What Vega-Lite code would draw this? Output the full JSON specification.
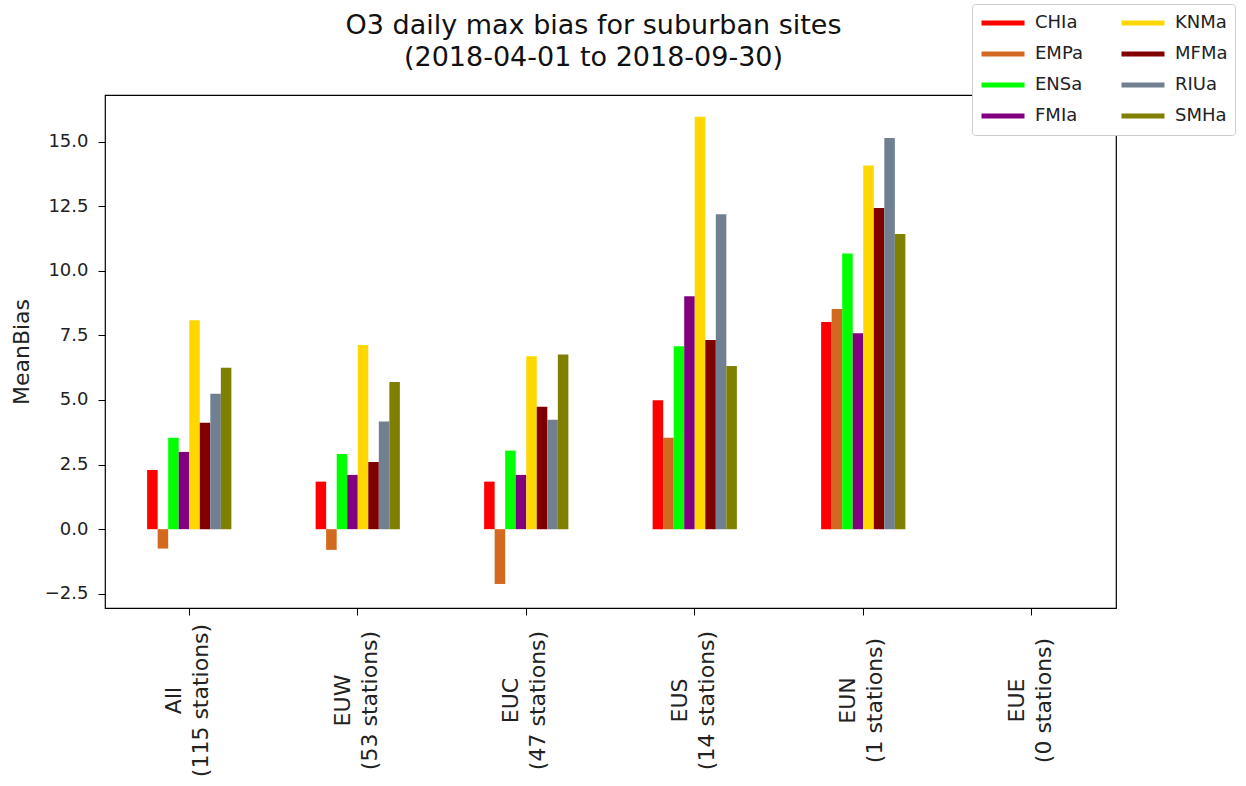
{
  "$schema": "https://vega.github.io/schema/vega-lite/v6.json",
  "width": 1011,
  "height": 513,
  "autosize": {"type": "none"},
  "padding": {"left": 105, "top": 95, "right": 130, "bottom": 178},
  "background": "white",
  "config": {
    "font": "DejaVu Sans",
    "view": {"stroke": "black", "strokeWidth": 1.2},
    "axis": {"domain": false, "grid": false, "tickColor": "black", "tickSize": 7, "labelColor": "#222", "titleColor": "#222", "labelFont": "DejaVu Sans", "titleFont": "DejaVu Sans"}
  },
  "title": {
    "text": ["O3 daily max bias for suburban sites", "(2018-04-01 to 2018-09-30)"],
    "fontSize": 27,
    "lineHeight": 32,
    "fontWeight": "normal",
    "color": "#111",
    "anchor": "middle",
    "offset": 0,
    "dy": 68,
    "dx": -17
  },
  "data": {
    "values": [
      {"region": "All\n(115 stations)", "model": "CHIa", "bias": 2.29},
      {"region": "All\n(115 stations)", "model": "EMPa", "bias": -0.75},
      {"region": "All\n(115 stations)", "model": "ENSa", "bias": 3.54},
      {"region": "All\n(115 stations)", "model": "FMIa", "bias": 2.99},
      {"region": "All\n(115 stations)", "model": "KNMa", "bias": 8.08},
      {"region": "All\n(115 stations)", "model": "MFMa", "bias": 4.12},
      {"region": "All\n(115 stations)", "model": "RIUa", "bias": 5.24},
      {"region": "All\n(115 stations)", "model": "SMHa", "bias": 6.25},
      {"region": "EUW\n(53 stations)", "model": "CHIa", "bias": 1.84},
      {"region": "EUW\n(53 stations)", "model": "EMPa", "bias": -0.8},
      {"region": "EUW\n(53 stations)", "model": "ENSa", "bias": 2.91},
      {"region": "EUW\n(53 stations)", "model": "FMIa", "bias": 2.1},
      {"region": "EUW\n(53 stations)", "model": "KNMa", "bias": 7.13},
      {"region": "EUW\n(53 stations)", "model": "MFMa", "bias": 2.6},
      {"region": "EUW\n(53 stations)", "model": "RIUa", "bias": 4.17},
      {"region": "EUW\n(53 stations)", "model": "SMHa", "bias": 5.69},
      {"region": "EUC\n(47 stations)", "model": "CHIa", "bias": 1.84},
      {"region": "EUC\n(47 stations)", "model": "EMPa", "bias": -2.12},
      {"region": "EUC\n(47 stations)", "model": "ENSa", "bias": 3.04},
      {"region": "EUC\n(47 stations)", "model": "FMIa", "bias": 2.1},
      {"region": "EUC\n(47 stations)", "model": "KNMa", "bias": 6.69},
      {"region": "EUC\n(47 stations)", "model": "MFMa", "bias": 4.74},
      {"region": "EUC\n(47 stations)", "model": "RIUa", "bias": 4.23},
      {"region": "EUC\n(47 stations)", "model": "SMHa", "bias": 6.76},
      {"region": "EUS\n(14 stations)", "model": "CHIa", "bias": 4.99},
      {"region": "EUS\n(14 stations)", "model": "EMPa", "bias": 3.54},
      {"region": "EUS\n(14 stations)", "model": "ENSa", "bias": 7.08},
      {"region": "EUS\n(14 stations)", "model": "FMIa", "bias": 9.01},
      {"region": "EUS\n(14 stations)", "model": "KNMa", "bias": 15.96},
      {"region": "EUS\n(14 stations)", "model": "MFMa", "bias": 7.32},
      {"region": "EUS\n(14 stations)", "model": "RIUa", "bias": 12.19},
      {"region": "EUS\n(14 stations)", "model": "SMHa", "bias": 6.31},
      {"region": "EUN\n(1 stations)", "model": "CHIa", "bias": 8.02},
      {"region": "EUN\n(1 stations)", "model": "EMPa", "bias": 8.52},
      {"region": "EUN\n(1 stations)", "model": "ENSa", "bias": 10.67},
      {"region": "EUN\n(1 stations)", "model": "FMIa", "bias": 7.58},
      {"region": "EUN\n(1 stations)", "model": "KNMa", "bias": 14.07},
      {"region": "EUN\n(1 stations)", "model": "MFMa", "bias": 12.43},
      {"region": "EUN\n(1 stations)", "model": "RIUa", "bias": 15.14},
      {"region": "EUN\n(1 stations)", "model": "SMHa", "bias": 11.42}
    ]
  },
  "mark": {"type": "bar"},
  "encoding": {
    "x": {
      "field": "region",
      "type": "nominal",
      "scale": {
        "domain": ["All\n(115 stations)", "EUW\n(53 stations)", "EUC\n(47 stations)", "EUS\n(14 stations)", "EUN\n(1 stations)", "EUE\n(0 stations)"],
        "paddingInner": 0.5,
        "paddingOuter": 0.25
      },
      "axis": {
        "title": null,
        "labelAngle": -90,
        "labelAlign": "center",
        "labelBaseline": "middle",
        "labelPadding": 85,
        "labelOffset": -15,
        "labelFontSize": 22,
        "labelLineHeight": 27,
        "labelOverlap": false,
        "labelBound": false,
        "labelFlush": false,
        "labelLimit": 300,
        "labelExpr": "split(datum.label, '\\n')"
      }
    },
    "xOffset": {
      "field": "model",
      "type": "nominal",
      "sort": ["CHIa", "EMPa", "ENSa", "FMIa", "KNMa", "MFMa", "RIUa", "SMHa"],
      "scale": {"paddingInner": 0, "paddingOuter": 0}
    },
    "y": {
      "field": "bias",
      "type": "quantitative",
      "scale": {"domain": [-3.05, 16.8], "nice": false, "zero": false},
      "axis": {
        "title": "MeanBias",
        "titleFontSize": 22,
        "titleFontWeight": "normal",
        "titlePadding": 11,
        "labelFontSize": 18,
        "labelPadding": 10,
        "values": [-2.5, 0, 2.5, 5, 7.5, 10, 12.5, 15],
        "format": ".1f"
      }
    },
    "color": {
      "field": "model",
      "type": "nominal",
      "scale": {
        "domain": ["CHIa", "EMPa", "ENSa", "FMIa", "KNMa", "MFMa", "RIUa", "SMHa"],
        "range": ["#ff0000", "#d2691e", "#00ff00", "#800080", "#ffd700", "#800000", "#708090", "#808000"]
      },
      "legend": {
        "title": null,
        "orient": "none",
        "legendX": 867,
        "legendY": -91,
        "columns": 2,
        "symbolType": "stroke",
        "symbolSize": 1849,
        "symbolStrokeWidth": 5,
        "clipHeight": 24,
        "labelFontSize": 18,
        "labelColor": "#222",
        "labelOffset": 8,
        "columnPadding": 36,
        "rowPadding": 7,
        "padding": 7,
        "fillColor": "white",
        "strokeColor": "#cccccc",
        "cornerRadius": 3,
        "encode": {
          "symbols": {"update": {"stroke": {"scale": "color", "field": "value"}, "strokeWidth": {"value": 5}}}
        }
      }
    }
  }
}
